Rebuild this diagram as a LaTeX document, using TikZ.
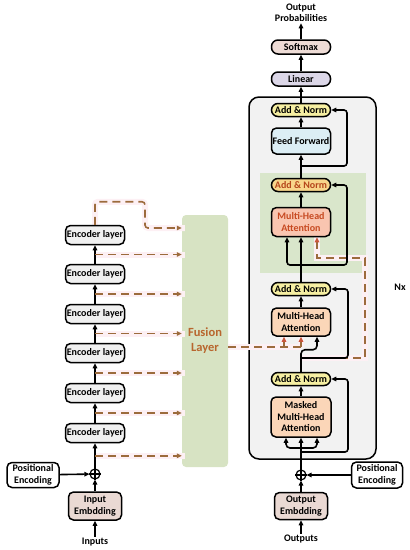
\documentclass[tikz,border=0pt]{standalone}
\usepackage{fontspec}
\setmainfont{Carlito}
\usetikzlibrary{arrows.meta, positioning, calc}
\definecolor{cenc}{HTML}{F0F0F0}
\definecolor{cemb}{HTML}{EAD9D3}
\definecolor{csoft}{HTML}{EEDCD6}
\definecolor{clin}{HTML}{DCD7E8}
\definecolor{cnorm}{HTML}{F6EFA2}
\definecolor{cnormx}{HTML}{F8D58A}
\definecolor{cnormtext}{HTML}{B5451B}
\definecolor{cff}{HTML}{DCEEF5}
\definecolor{cattx}{HTML}{F9C5B0}
\definecolor{catttext}{HTML}{C74A22}
\definecolor{catt}{HTML}{FBD6B8}
\definecolor{cstack}{HTML}{F2F2F2}
\definecolor{cgreen}{HTML}{D9E6CB}
\definecolor{cfusion}{HTML}{D7E3C3}
\definecolor{cfusetext}{HTML}{B8662E}
\definecolor{cfuse}{HTML}{9C6B3C}
\definecolor{cglow}{HTML}{FDF0F4}
\definecolor{ctip}{HTML}{C8553A}
\pgfdeclarelayer{back}
\pgfdeclarelayer{glow}
\pgfsetlayers{back,glow,main}
\tikzset{
  every picture/.style={font=\fontsize{10}{11.5}\selectfont\bfseries, line width=1.5pt},
  block/.style={draw, fill=#1, rounded corners=5pt, align=center, inner sep=1pt, line width=1.5pt, minimum width=59pt},
  block/.default=cenc,
  pill/.style={draw, fill=#1, rounded corners=6.5pt, line width=1.5pt, minimum width=59pt, minimum height=13pt, inner sep=1pt},
  pill/.default=cnorm,
  link/.style={line width=1.6pt, -{Triangle[length=5pt,width=4.5pt]}},
  fuse/.style={draw=cfuse, line width=1.6pt, dash pattern=on 8pt off 5pt, -{Triangle[length=5pt,width=4.5pt]}},
  glow/.style={draw=cglow, line width=6pt},
  adder/.style={circle, draw, line width=1.2pt, minimum size=10pt, inner sep=0pt},
  plaintext/.style={align=center, inner sep=1pt},
}
\begin{document}
\begin{tikzpicture}[x=1pt,y=-1pt]
  \useasboundingbox (0,0) rectangle (410,550);
  % regions behind everything
  \begin{pgfonlayer}{back}
    \node[draw, fill=cstack, rounded corners=10pt, line width=1.5pt, minimum width=127pt, minimum height=362pt] (stack) at (312.5,278) {};
    \node[fill=cgreen, minimum width=106pt, minimum height=100pt, inner sep=0pt] (cross) at (313,223) {};
    \node[fill=cfusion, rounded corners=4pt, minimum width=46pt, minimum height=252pt, align=center, text=cfusetext, font=\fontsize{12.5}{15}\selectfont\bfseries] (fusion) at (205,341) {Fusion\\Layer};
  \end{pgfonlayer}
  \node (nx) at (400,287) {Nx};

  % encoder side
  \node[plaintext] (inputs) at (95,542) {Inputs};
  \node[block=cemb, minimum width=53pt, minimum height=28pt] (inemb) at (95,506) {Input\\Embdding};
  \node[adder] (opl) at (95,474) {};
  \node[block=white, minimum width=52pt, minimum height=25pt] (posl) at (33,475) {Positional\\Encoding};
  \foreach \n/\y in {1/235, 2/274, 3/314, 4/353, 5/393, 6/433}
    \node[block, minimum height=19pt] (enc\n) at (95,\y) {Encoder layer};
  \draw[line width=1.2pt] (opl.north) -- (opl.south) (opl.west) -- (opl.east);
  \draw[link] (inputs) -- (inemb);
  \draw[link] (inemb) -- (opl);
  \draw[link] (posl) -- (opl);
  \draw[link] (opl) -- (enc6);
  \foreach \a/\b in {6/5, 5/4, 4/3, 3/2, 2/1}
    \draw[link] (enc\a) -- (enc\b);

  % taps into the fusion layer
  \coordinate (tap6) at ($(opl.north)!0.5!(enc6.south)$);
  \foreach \a/\b in {6/5, 5/4, 4/3, 3/2, 2/1}
    \coordinate (tap\b) at ($(enc\a.north)!0.5!(enc\b.south)$);
  \coordinate (bend) at (145,228);

  % decoder side
  \node[plaintext] (probs) at (301,13) {Output\\Probabilities};
  \node[pill=csoft, minimum height=14pt] (softmax) at (301,47) {Softmax};
  \node[pill=clin, minimum height=14pt] (linear) at (301,79) {Linear};
  \node[pill] (add1) at (301,110) {Add \& Norm};
  \node[block=cff, minimum height=26pt] (ff) at (301,141) {Feed Forward};
  \node[pill=cnormx, text=cnormtext] (add2) at (301,185) {Add \& Norm};
  \node[block=cattx, minimum height=29pt, text=catttext] (mha1) at (301,222) {Multi-Head\\Attention};
  \node[pill] (add3) at (301,289) {Add \& Norm};
  \node[block=catt, minimum height=28pt] (mha2) at (301,322) {Multi-Head\\Attention};
  \node[pill] (add4) at (301,379) {Add \& Norm};
  \node[block=catt, minimum width=60pt, minimum height=40pt] (masked) at (301,417) {Masked\\Multi-Head\\Attention};
  \node[adder] (opr) at (301,475) {};
  \node[block=white, minimum width=51pt, minimum height=26pt] (posr) at (377,475) {Positional\\Encoding};
  \node[block=cemb, minimum width=53pt, minimum height=27pt] (outemb) at (301,506) {Output\\Embdding};
  \node[plaintext] (outputs) at (301,539) {Outputs};
  \draw[line width=1.2pt] (opr.north) -- (opr.south) (opr.west) -- (opr.east);

  \coordinate (q1) at ($(mha1.south)+(-14,0)$);
  \coordinate (v1) at ($(mha1.south)+(16,0)$);
  \coordinate (q2) at ($(mha2.south)+(-17,0)$);
  \coordinate (k2) at (mha2.south);
  \coordinate (v2) at ($(mha2.south)+(16,0)$);
  \coordinate (fork1) at (301,448);
  \coordinate (res1) at (301,452);
  \coordinate (res2) at (301,358);
  \coordinate (res3) at (301,265);
  \coordinate (res4) at (301,166);
  \coordinate (fuseR) at (301,347);
  \coordinate (relay) at (365,358);

  % pink bands under the fusion paths
  \begin{pgfonlayer}{glow}
    \foreach \t in {1,...,6}
      \draw[glow] (tap\t) -- ($(tap\t -| fusion.west)+(3,0)$);
    \draw[glow, rounded corners=3pt] (enc1.north) -- ++(0,-23) -| (bend) -- ($(bend -| fusion.west)+(3,0)$);
    \draw[glow] (fusion.east |- fuseR) -- (fuseR);
    \draw[glow] (q2 |- fuseR) -- (q2);
    \draw[glow] (fuseR) -- (k2);
    \draw[glow] (res2) -- (relay) |- ($(v1)+(0,21)$) -- (v1);
  \end{pgfonlayer}

  \foreach \t in {1,...,6}
    \draw[fuse] (tap\t) -- (tap\t -| fusion.west);
  \draw[fuse, rounded corners=3pt] (enc1.north) -- ++(0,-23) -| (bend) -- (bend -| fusion.west);
  \draw[fuse, -] (fusion.east |- fuseR) -- (fuseR);
  \draw[fuse, -{Triangle[length=5pt,width=4.5pt,color=ctip]}] (q2 |- fuseR) -- (q2);
  \draw[fuse, -{Triangle[length=5pt,width=4.5pt,color=ctip]}] (fuseR) -- (k2);
  \draw[fuse, -{Triangle[length=5pt,width=4.5pt,color=ctip]}] (res2) -- (relay) |- ($(v1)+(0,21)$) -- (v1);

  \draw[link] (outputs) -- (outemb);
  \draw[link] (outemb) -- (opr);
  \draw[link] (posr) -- (opr);
  \draw[link] (opr) -- (masked);
  \draw[link, rounded corners=4pt] (fork1) -| ($(masked.south)+(-15,0)$);
  \draw[link, rounded corners=4pt] (fork1) -| ($(masked.south)+(16,0)$);
  \draw[link, rounded corners=3pt] (res1) -- ++(47,0) |- (add4.east);
  \draw[link] (masked) -- (add4);
  \draw[link, rounded corners=4pt] (add4.north) -- ++(0,-22) -| (v2);
  \draw[link, rounded corners=3pt] (res2) -- ++(47,0) |- (add3.east);
  \draw[link] (mha2) -- (add3);
  \draw[link] (add3) -- (mha1);
  \draw[link, rounded corners=3pt] (res3) -| (q1);
  \draw[link, rounded corners=3pt] (res3) -- ++(46,0) |- (add2.east);
  \draw[link] (mha1) -- (add2);
  \draw[link] (add2) -- (ff);
  \draw[link] (ff) -- (add1);
  \draw[link, rounded corners=3pt] (res4) -- ++(46,0) |- (add1.east);
  \draw[link] (add1) -- (linear);
  \draw[link] (linear) -- (softmax);
  \draw[link] (softmax) -- (probs);
\end{tikzpicture}
\end{document}
